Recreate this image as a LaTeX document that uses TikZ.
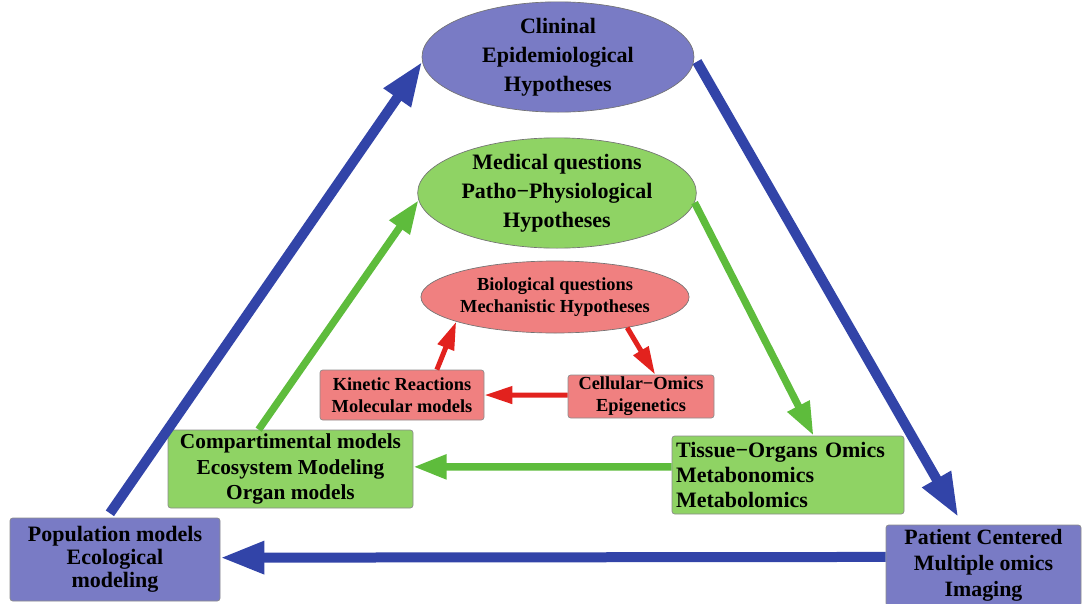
\documentclass[tikz,border=0pt]{standalone}
\usepackage{fontspec}
\setmainfont{Liberation Serif}
\usetikzlibrary{shapes.geometric,arrows.meta}

\definecolor{lavender}{RGB}{121,123,197}
\definecolor{navyline}{RGB}{50,68,168}
\definecolor{leaf}{RGB}{143,211,100}
\definecolor{leafline}{RGB}{94,188,60}
\definecolor{salmon}{RGB}{240,128,128}
\definecolor{rubyline}{RGB}{226,34,30}

\newcommand{\bigtxt}{\fontsize{16.5}{21.75}\selectfont\bfseries}
\newcommand{\midtxt}{\fontsize{16.5}{18.5}\selectfont\bfseries}
\newcommand{\smalltxt}{\fontsize{13.8}{16.5}\selectfont\bfseries}

\tikzset{every picture/.style={line width=0.75pt},
  hypo/.style={ellipse, draw=black!55, line width=0.5pt, inner sep=0pt, align=center},
  modelbox/.style={rectangle, rounded corners=2pt, draw=black!45, line width=0.5pt, inner sep=0pt, align=center},
  bluearrow/.style={navyline, line width=7.5pt, -{Triangle[length=33pt,width=23pt]}},
  greenarrow/.style={leafline, line width=5.5pt, -{Triangle[length=25pt,width=17.5pt]}},
  redarrow/.style={rubyline, line width=3.75pt, -{Triangle[length=21pt,width=12.5pt]}}}

\begin{document}
\begin{tikzpicture}[x=0.75pt,y=0.75pt,yscale=-1,xscale=1]
\useasboundingbox (0,0) rectangle (1083,604);

% Shape: Ellipse (outer)
\node [hypo, fill=lavender, minimum width=204pt, minimum height=70.5pt, font=\bigtxt] (clin) at (558,57) {Clininal\\Epidemiological\\Hypotheses};
% Shape: Ellipse (middle)
\node [hypo, fill=leaf, minimum width=209pt, minimum height=70pt, font=\bigtxt] (med) at (557,193) {Medical questions\\Patho−Physiological\\Hypotheses};
% Shape: Ellipse (inner)
\node [hypo, fill=salmon, minimum width=169.5pt, minimum height=54pt, font=\smalltxt] (bio) at (555,297) {Biological questions\\Mechanistic Hypotheses};

% Shape: Rectangle (inner)
\node [modelbox, fill=salmon, minimum width=123pt, minimum height=37.5pt, font=\smalltxt] (kin) at (402,395) {Kinetic Reactions\\Molecular models};
\node [modelbox, fill=salmon, minimum width=109.5pt, minimum height=32.25pt, font=\smalltxt] (cell) at (641,396.5) {Cellular−Omics\\Epigenetics};
% Shape: Rectangle (middle)
\node [modelbox, fill=leaf, minimum width=183.75pt, minimum height=58.5pt, font=\fontsize{16}{19}\selectfont\bfseries] (comp) at (290.5,469) {Compartimental models\\Ecosystem Modeling\\Organ models};
\node [modelbox, fill=leaf, minimum width=174pt, minimum height=58.5pt, inner xsep=3pt, text width=168pt, align=left, font=\midtxt] (tis) at (788,475) {Tissue−Organs Omics\\Metabonomics\\Metabolomics};
% Shape: Rectangle (outer)
\node [modelbox, fill=lavender, minimum width=157.5pt, minimum height=62.25pt, font=\fontsize{16.5}{17.25}\selectfont\bfseries] (pop) at (115,559.5) {Population models\\Ecological\\modeling};
\node [modelbox, fill=lavender, minimum width=146.25pt, minimum height=60.75pt, font=\fontsize{16.4}{19.5}\selectfont\bfseries] (pat) at (983.5,565.5) {Patient Centered\\Multiple omics\\Imaging};

% Straight Lines (outer cycle)
\draw [bluearrow, shorten <=4pt] (pop.101) -- (clin.182);
\draw [bluearrow, shorten <=4pt, shorten >=6.5pt] (clin.east) -- (pat.117);
\draw [bluearrow] (pat.175) -- (pop.1);
% Straight Lines (middle cycle)
\draw [greenarrow] (comp.129) -- (med.183);
\draw [greenarrow] (med.356) -- (tis.57);
\draw [greenarrow] (tis.176) -- (comp.1);
% Straight Lines (inner cycle)
\draw [redarrow] (kin.36) -- (bio.194);
\draw [redarrow] (bio.337) -- (cell.57);
\draw [redarrow] (cell.179) -- (kin.east);

\end{tikzpicture}
\end{document}
